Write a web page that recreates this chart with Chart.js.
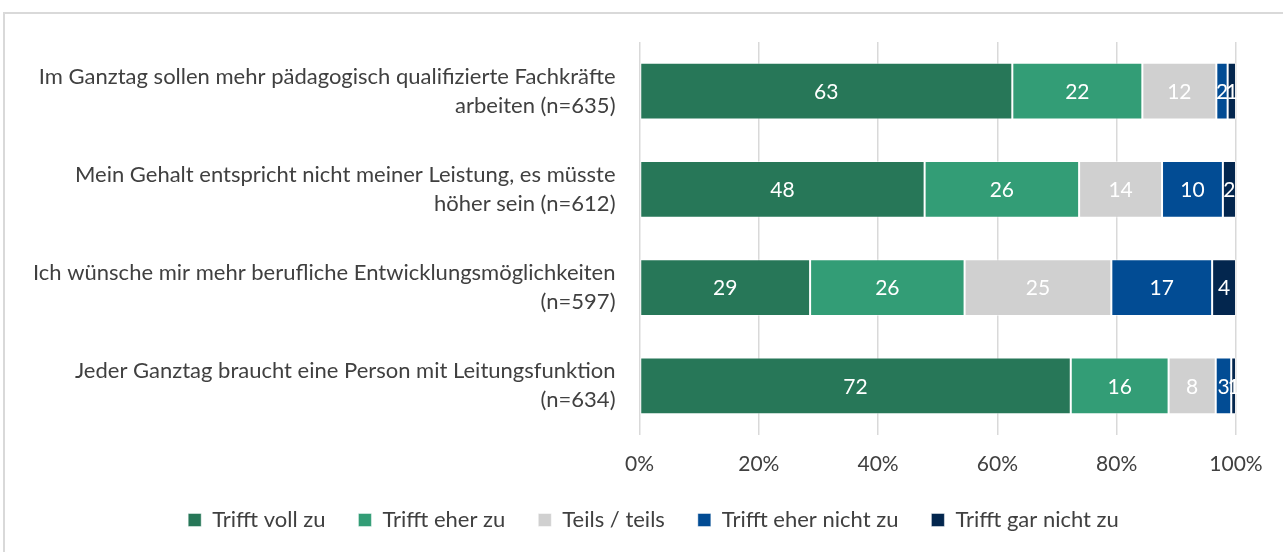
<!DOCTYPE html>
<html>
<head>
<meta charset="utf-8">
<script src="https://cdn.jsdelivr.net/npm/chart.js@4.4.1/dist/chart.umd.min.js"></script>
<style>
  html, body { margin: 0; padding: 0; background: #fff; overflow: hidden; }
  #wrap { position: relative; width: 1283px; height: 552px; }
  #frame { position: absolute; left: 3px; top: 12px; width: 1400px; height: 700px; border: 2px solid #d9d9d9; box-sizing: border-box; }
  canvas { position: absolute; left: 0; top: 0; }
</style>
</head>
<body>
<div id="wrap">
  <div id="frame"></div>
  <canvas id="chart" width="1283" height="552"></canvas>
</div>
<script>
// statements (each one has two lines on the y axis)
const statements = [
    ["Im Ganztag sollen mehr pädagogisch qualifizierte Fachkräfte", "arbeiten (n=635)"],
    ["Mein Gehalt entspricht nicht meiner Leistung, es müsste", "höher sein (n=612)"],
    ["Ich wünsche mir mehr berufliche Entwicklungsmöglichkeiten", "(n=597)"],
    ["Jeder Ganztag braucht eine Person mit Leitungsfunktion", "(n=634)"]
];
// answer shares in percent, one array per answer, same order as statements
const vollZu = [62.5, 47.8, 28.6, 72.3];
const eherZu = [21.8, 25.9, 25.9, 16.4];
const teilsTeils = [12.4, 13.9, 24.6, 7.9];
const eherNicht = [1.9, 10.2, 16.9, 2.6];
const garNicht = [1.4, 2.2, 4.0, 0.8];
const answerNames = ["Trifft voll zu", "Trifft eher zu", "Teils / teils", "Trifft eher nicht zu", "Trifft gar nicht zu"];
const answerColors = ["#277758", "#339d76", "#d0d0d0", "#024c94", "#03264e"];
const xTicks = [0, 20, 40, 60, 80, 100];

const FONT = "Lato, 'Noto Sans', sans-serif";
const TEXT = "#404040";

const series = [vollZu, eherZu, teilsTeils, eherNicht, garNicht];
const datasets = series.map((values, i) => ({
    label: answerNames[i],
    data: values,
    backgroundColor: answerColors[i],
    borderColor: "rgba(255,255,255,0.45)",
    borderWidth: 1,
    borderSkipped: false,
    categoryPercentage: 1,
    barPercentage: 0.58
}));

//draws the rounded value in the middle of every segment
const valueLabels = {
    id: "valueLabels",
    afterDatasetsDraw(chart) {
        const ctx = chart.ctx;
        ctx.save();
        ctx.font = "21px " + FONT;
        ctx.fillStyle = "#fff";
        ctx.textAlign = "center";
        ctx.textBaseline = "middle";
        chart.data.datasets.forEach((ds, i) => {
            chart.getDatasetMeta(i).data.forEach((bar, j) => {
                const cx = (bar.x + bar.base) / 2;
                ctx.fillText(Math.round(ds.data[j]), cx, bar.y + 1);
            });
        });
        ctx.restore();
    }
};

new Chart(document.getElementById("chart"), {
    type: "bar",
    data: { labels: statements, datasets: datasets },
    options: {
        indexAxis: "y",
        responsive: false,
        animation: false,
        layout: { padding: { top: 42, left: 24, right: 0, bottom: 11 } },
        scales: {
            x: {
                stacked: true,
                min: 0,
                max: 100,
                afterBuildTicks(scale) { scale.ticks = xTicks.map(v => ({ value: v })); },
                afterFit(scale) {
                    scale.height = 41;
                    scale.paddingRight = 47;
                    //axis box is kept short so the legend sits close, don't clip the % labels to it
                    scale._computeLabelArea = () => undefined;
                },
                grid: { color: "#d9d9d9", lineWidth: 1.5, drawTicks: false },
                border: { display: false },
                ticks: {
                    callback: v => v + "%",
                    color: TEXT,
                    font: { family: FONT, size: 21 },
                    padding: 17
                }
            },
            y: {
                stacked: true,
                afterFit(scale) { scale.width = 615.5; scale.paddingTop = 0; scale.paddingBottom = 0; },
                grid: { display: false, drawTicks: false },
                border: { display: false },
                ticks: {
                    color: TEXT,
                    font: { family: FONT, size: 22, lineHeight: 1.32 },
                    padding: 24
                }
            }
        },
        plugins: {
            legend: {
                position: "bottom",
                labels: {
                    color: TEXT,
                    font: { family: FONT, size: 22 },
                    boxWidth: 13,
                    boxHeight: 13,
                    padding: 33
                }
            },
            tooltip: { enabled: false }
        }
    },
    plugins: [valueLabels]
});
</script>
</body>
</html>
